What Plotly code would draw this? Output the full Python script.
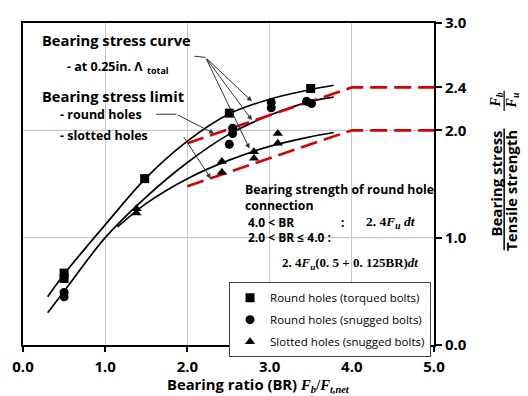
import plotly.graph_objects as go

# ---------------- data ----------------
sq_x = [0.5, 0.5, 1.48, 2.51, 3.50]
sq_y = [0.67, 0.62, 1.55, 2.16, 2.39]

ci_x = [0.5, 0.5, 2.55, 2.55, 2.51, 3.02, 3.02, 3.45, 3.51]
ci_y = [0.49, 0.45, 2.02, 1.97, 1.87, 2.26, 2.21, 2.27, 2.25]

tr_x = [1.38, 1.38, 2.42, 2.42, 2.81, 2.81, 3.10, 3.10]
tr_y = [1.27, 1.23, 1.71, 1.61, 1.80, 1.74, 1.97, 1.88]

top_x = [0.30, 0.5, 1.0, 1.5, 2.0, 2.5, 3.0, 3.5, 3.78]
top_y = [0.45, 0.66, 1.12, 1.56, 1.90, 2.15, 2.29, 2.38, 2.42]
mid_x = [0.30, 0.5, 1.0, 1.5, 2.0, 2.5, 3.0, 3.5, 3.78]
mid_y = [0.30, 0.50, 1.00, 1.38, 1.70, 1.96, 2.14, 2.27, 2.31]
bot_x = [1.15, 1.5, 2.0, 2.5, 3.0, 3.5, 3.78]
bot_y = [1.10, 1.32, 1.55, 1.72, 1.85, 1.94, 1.98]

lim_round_x = [2.0, 4.0, 5.0]
lim_round_y = [1.88, 2.4, 2.4]
lim_slot_x = [2.0, 4.0, 5.0]
lim_slot_y = [1.48, 2.0, 2.0]

x_ticks = [0, 1, 2, 3, 4, 5]
x_labels = ["0.0", "1.0", "2.0", "3.0", "4.0", "5.0"]
y_ticks = [0, 1, 2, 2.4, 3]
y_labels = ["0.0", "1.0", "2.0", "2.4", "3.0"]

# ---------------- layout constants ----------------
W, H = 528, 396
L, R, T, B = 18, 94, 12, 51
PW, PH = W - L - R, H - T - B
FONT = "Open Sans, Noto Sans, sans-serif"
SERIF = "Liberation Serif, DejaVu Serif, serif"
RED = "#d80000"


def px(xp, yp):
    return (xp - L) / PW, (H - B - yp) / PH


fig = go.Figure()

for xs, ys in [(top_x, top_y), (mid_x, mid_y), (bot_x, bot_y)]:
    fig.add_trace(go.Scatter(x=xs, y=ys, mode="lines", line=dict(color="black", width=1.7, shape="spline"),
                             showlegend=False, hoverinfo="skip"))
for xs, ys in [(lim_round_x, lim_round_y), (lim_slot_x, lim_slot_y)]:
    fig.add_trace(go.Scatter(x=xs, y=ys, mode="lines", line=dict(color=RED, width=2.6, dash="17px,7px"),
                             showlegend=False, hoverinfo="skip"))

fig.add_trace(go.Scatter(x=sq_x, y=sq_y, mode="markers", name="Round holes (torqued bolts)",
                         marker=dict(symbol="square", size=9, color="black"), legendgroup="a"))
fig.add_trace(go.Scatter(x=ci_x, y=ci_y, mode="markers", name="Round holes (snugged bolts)",
                         marker=dict(symbol="circle", size=9, color="black"), legendgroup="b"))
fig.add_trace(go.Scatter(x=tr_x, y=tr_y, mode="markers", name="Slotted holes (snugged bolts)",
                         marker=dict(symbol="triangle-up", size=9, color="black"), legendgroup="c"))

# gridlines (horizontal only at 1 and 2)
for gy in [1.0, 2.0]:
    fig.add_shape(type="line", xref="x", yref="y", x0=0, x1=5, y0=gy, y1=gy,
                  line=dict(color="#c8c8c8", width=1.2), layer="below")

# annotation leader lines and arrows
seg = dict(color="#333333", width=1)
fig.add_shape(type="line", xref="x", yref="y", x0=2.085, y0=2.69, x1=2.22, y1=2.68, line=seg)
for tx, ty in [(2.785, 2.27), (2.785, 2.095), (2.755, 1.83)]:
    fig.add_annotation(x=tx, y=ty, ax=2.22, ay=2.68, xref="x", yref="y", axref="x", ayref="y",
                       text="", showarrow=True, arrowhead=2, arrowsize=1, arrowwidth=1, arrowcolor="#333333")
fig.add_shape(type="line", xref="x", yref="y", x0=1.62, y0=2.15, x1=1.865, y1=2.15, line=seg)
fig.add_annotation(x=2.325, y=1.97, ax=1.865, ay=2.15, xref="x", yref="y", axref="x", ayref="y",
                   text="", showarrow=True, arrowhead=2, arrowsize=1, arrowwidth=1, arrowcolor="#333333")
fig.add_annotation(x=2.285, y=1.55, ax=1.945, ay=1.95, xref="x", yref="y", axref="x", ayref="y",
                   text="", showarrow=True, arrowhead=2, arrowsize=1, arrowwidth=1, arrowcolor="#333333")


def txt(xp, yp, text, size, anchor="left", family=FONT, angle=0, yanchor="middle"):
    x, y = px(xp, yp)
    fig.add_annotation(x=x, y=y, xref="paper", yref="paper", text=text, showarrow=False,
                       xanchor=anchor, yanchor=yanchor, textangle=angle, borderpad=0,
                       align="left" if anchor == "left" else "center",
                       font=dict(family=family, size=size, color="black"))


txt(36, 30, "<b>Bearing stress curve</b>", 14.7)
txt(62, 57, "<b>- at 0.25in. Λ</b>", 12.5)
txt(143, 61, "<b>total</b>", 9)
txt(36, 87, "<b>Bearing stress limit</b>", 14.7)
txt(54, 107, "<b>- round holes</b>", 12.5)
txt(54, 128, "<b>- slotted holes</b>", 12.5)

txt(242, 192, "<b>Bearing strength of round hole<br>connection</b>", 12.3)
txt(245, 218, "<b>4.0 &lt; BR</b>", 12)
txt(339, 218, "<b>:</b>", 12)
txt(364, 218, "<b>2. 4<i>F</i><sub><i>u</i></sub> <i>dt</i></b>", 13.5, family=SERIF)
txt(245, 234, "<b>2.0 &lt; BR ≤ 4.0 :</b>", 12)
txt(279, 261, "<b>2. 4<i>F</i><sub><i>u</i></sub>(0. 5 + 0. 125BR)<i>dt</i></b>", 13, family=SERIF)

# x axis title
txt(256, 386, "<b>Bearing ratio (BR) </b><span style='font-family:Liberation Serif'><b><i>F</i><sub><i>b</i></sub>/<i>F</i><sub><i>t,net</i></sub></b></span>",
    14.8, anchor="center")

# right axis title (fraction)
txt(497, 122, "<b>Bearing stress</b>", 15, anchor="center", angle=-90, yanchor="top")
txt(512, 122, "<b>Tensile strength</b>", 15, anchor="center", angle=-90, yanchor="top")
x0, y0 = px(505, 121)
x1, y1 = px(505, 247)
fig.add_shape(type="line", xref="paper", yref="paper", x0=x0, x1=x1, y0=y0, y1=y1, line=dict(color="black", width=1.5))
txt(497, 92, "<b><i>F</i><sub><i>b</i></sub></b>", 14, anchor="center", family=SERIF, angle=-90)
txt(513, 92, "<b><i>F</i><sub><i>u</i></sub></b>", 14, anchor="center", family=SERIF, angle=-90)
x0, y0 = px(505, 82)
x1, y1 = px(505, 103)
fig.add_shape(type="line", xref="paper", yref="paper", x0=x0, x1=x1, y0=y0, y1=y1, line=dict(color="black", width=1.2))

lx, ly = px(431, 280)
fig.update_layout(
    width=W, height=H,
    margin=dict(l=L, r=R, t=T, b=B),
    paper_bgcolor="white", plot_bgcolor="white",
    font=dict(family=FONT, color="black"),
    showlegend=True,
    legend=dict(x=lx, y=ly, xanchor="right", yanchor="top", bgcolor="white",
                bordercolor="#444444", borderwidth=1, tracegroupgap=3,
                font=dict(family=FONT, size=11.5, color="black"), itemwidth=30),
    xaxis=dict(range=[0, 5], tickvals=x_ticks, ticktext=x_labels, showgrid=True, gridcolor="#c8c8c8",
               gridwidth=1.2, zeroline=False, showline=True, linecolor="black", linewidth=2, mirror=True,
               ticks="outside", ticklen=5, tickwidth=2, tickcolor="black", ticklabelstandoff=2,
               tickfont=dict(family=FONT, size=15, weight="bold")),
    yaxis=dict(range=[0, 3], side="right", tickvals=y_ticks, ticktext=y_labels, showgrid=False,
               zeroline=False, showline=True, linecolor="black", linewidth=2, mirror=True,
               ticks="outside", ticklen=6, tickwidth=2, tickcolor="black",
               tickfont=dict(family=FONT, size=15, weight="bold")),
)

fig.write_html("out.html")
